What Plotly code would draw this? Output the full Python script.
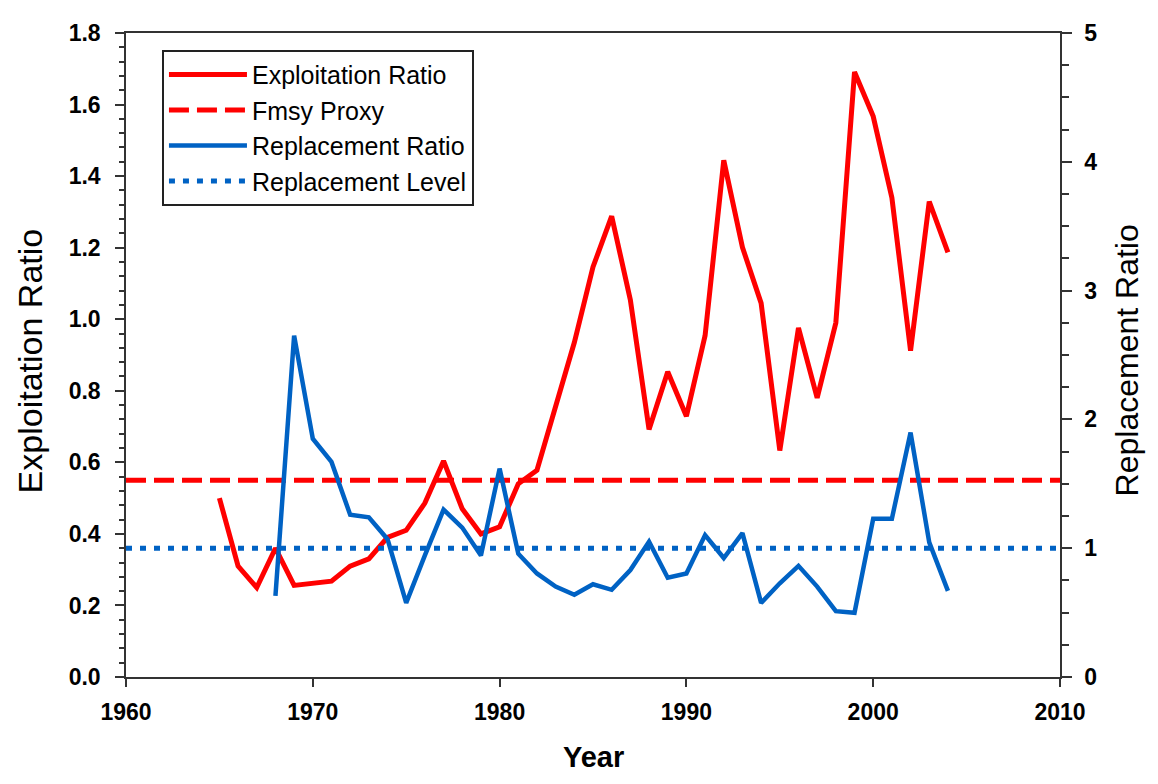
import plotly.graph_objects as go

# ---- data ----
exp_years = list(range(1965, 2005))
exploitation_ratio = [0.50, 0.31, 0.25, 0.36, 0.256, 0.262, 0.268, 0.31, 0.33, 0.39,
                      0.41, 0.486, 0.604, 0.47, 0.40, 0.42, 0.54, 0.578, 0.753, 0.935,
                      1.146, 1.288, 1.054, 0.692, 0.853, 0.729, 0.954, 1.444, 1.201, 1.045,
                      0.633, 0.976, 0.78, 0.99, 1.691, 1.567, 1.34, 0.912, 1.329, 1.187]

rep_years = list(range(1968, 2005))
replacement_ratio = [0.63, 2.65, 1.85, 1.67, 1.26, 1.24, 1.07, 0.575, 0.944, 1.30,
                     1.16, 0.944, 1.618, 0.957, 0.804, 0.702, 0.639, 0.72, 0.677, 0.83,
                     1.051, 0.771, 0.804, 1.102, 0.924, 1.117, 0.575, 0.728, 0.863, 0.702,
                     0.511, 0.499, 1.229, 1.229, 1.898, 1.046, 0.669]

ref_years = [1960, 2010]
fmsy_proxy = 0.55
replacement_level = 1.0

RED = "#FF0000"
BLUE = "#0062C4"
AXIS = "#333333"
FONT = "Liberation Sans, Arial, sans-serif"

fig = go.Figure()
fig.add_trace(go.Scatter(x=exp_years, y=exploitation_ratio, mode="lines",
                         name="Exploitation Ratio", line=dict(color=RED, width=5)))
fig.add_trace(go.Scatter(x=ref_years, y=[fmsy_proxy] * len(ref_years), mode="lines",
                         name="Fmsy Proxy", line=dict(color=RED, width=5, dash="20px,8px")))
fig.add_trace(go.Scatter(x=rep_years, y=replacement_ratio, mode="lines", yaxis="y2",
                         name="Replacement Ratio", line=dict(color=BLUE, width=4.5)))
fig.add_trace(go.Scatter(x=ref_years, y=[replacement_level] * len(ref_years), mode="lines",
                         yaxis="y2", name="Replacement Level",
                         line=dict(color=BLUE, width=5, dash="6px,8px")))

tickfont = dict(family=FONT, size=23, color="black", weight="bold")

fig.update_layout(
    width=1142, height=768,
    margin=dict(l=118, r=90, t=14, b=99),
    paper_bgcolor="white", plot_bgcolor="white",
    font=dict(family=FONT, color="black"),
    xaxis=dict(range=[1960, 2010], dtick=10, tick0=1960, showgrid=False, zeroline=False,
               showline=True, linecolor=AXIS, linewidth=1.5, mirror=True,
               ticks="outside", ticklen=8, tickwidth=1.5, tickcolor=AXIS,
               tickfont=tickfont, ticklabelstandoff=6),
    yaxis=dict(range=[0, 1.8], dtick=0.2, tick0=0, tickformat=".1f", showgrid=False,
               zeroline=False, showline=True, linecolor=AXIS, linewidth=1.5,
               ticks="outside", ticklen=9, tickwidth=1.5, tickcolor=AXIS,
               minor=dict(dtick=0.04, ticks="outside", ticklen=5, tickwidth=1.5,
                          tickcolor=AXIS, showgrid=False),
               tickfont=tickfont, ticklabelstandoff=10),
    yaxis2=dict(range=[0, 5], dtick=1, tick0=0, overlaying="y", side="right",
                showgrid=False, zeroline=False, showline=True, linecolor=AXIS,
                linewidth=1.5, ticks="outside", ticklen=10, tickwidth=1.5, tickcolor=AXIS,
                minor=dict(dtick=0.25, ticks="outside", ticklen=7, tickwidth=1.5,
                           tickcolor=AXIS, showgrid=False),
                tickfont=tickfont, ticklabelstandoff=8),
    legend=dict(x=0.0385, y=0.974, xanchor="left", yanchor="top",
                bgcolor="white", bordercolor="#222222", borderwidth=2,
                font=dict(family=FONT, size=25, color="black"),
                itemwidth=78, tracegroupgap=0),
    showlegend=True,
    annotations=[
        dict(text="Exploitation Ratio", xref="paper", yref="paper", x=-0.1028, y=0.4916,
             xanchor="center", yanchor="middle", textangle=-90, showarrow=False,
             font=dict(family=FONT, size=34, color="black")),
        dict(text="Replacement Ratio", xref="paper", yref="paper", x=1.0717, y=0.4916,
             xanchor="center", yanchor="middle", textangle=-90, showarrow=False,
             font=dict(family=FONT, size=32, color="black")),
        dict(text="Year", xref="paper", yref="paper", x=0.5, y=-0.1245,
             xanchor="center", yanchor="middle", showarrow=False,
             font=dict(family=FONT, size=29, color="black", weight="bold")),
    ],
)

fig.write_html("out.html")
